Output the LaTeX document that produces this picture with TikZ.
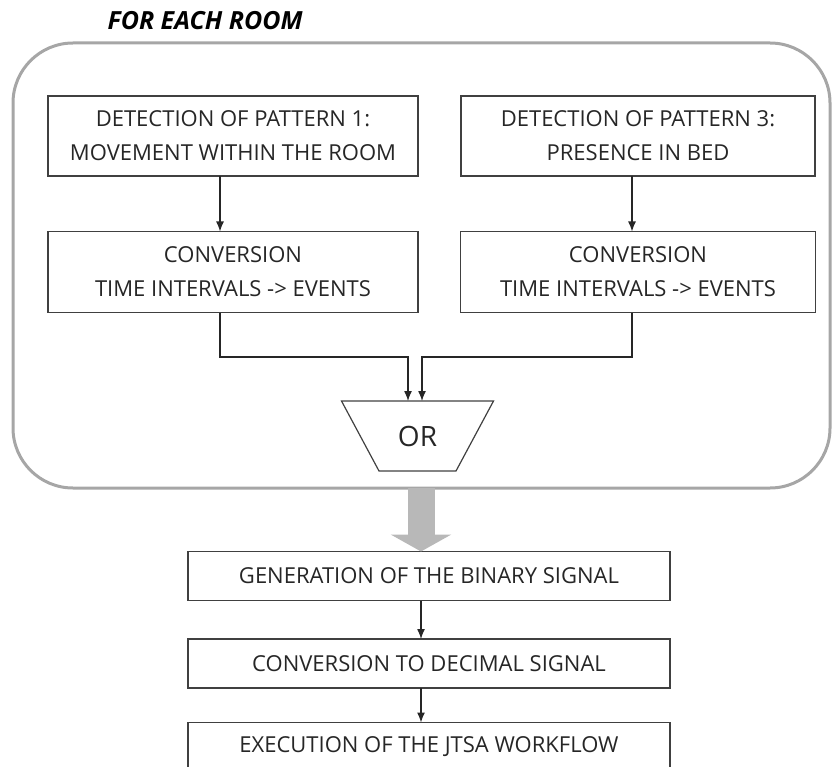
\documentclass[tikz,border=0pt]{standalone}
\usepackage{fontspec}
\setmainfont{Open Sans}
\usetikzlibrary{positioning,arrows.meta}
\begin{document}
\begin{tikzpicture}[
    x=1pt, y=-1pt,
    box/.style={rectangle, draw=black!75, line width=1.2pt, align=center, inner sep=0pt, outer sep=0pt, font=\fontsize{22}{34}\selectfont, text=black!85},
    room/.style={rectangle, draw=black!35, line width=3pt, rounded corners=60pt, inner sep=0pt, outer sep=0pt},
    gate/.style={rectangle, inner sep=0pt, outer sep=0pt, minimum width=152pt, minimum height=70pt, font=\fontsize{28}{30}\selectfont, text=black!85},
    gateline/.style={draw=black!75, line width=1.2pt, line join=miter},
    arrow/.style={-{Latex[length=10pt,width=8pt]}, line width=1.3pt, black!85},
    bigarrow/.style={line width=27pt, black!28, -{Triangle[length=17pt,width=60pt]}}
]
\useasboundingbox (0,0) rectangle (832,767);

% Define nodes
\node (title) at (205,21) {\fontsize{25}{27}\selectfont\bfseries\itshape FOR EACH ROOM};
\node (room) [room, minimum width=817pt, minimum height=445pt] at (421.5,265.5) {};

\node (det1) [box, minimum width=370pt, minimum height=80pt] at (233,136) {DETECTION OF PATTERN 1:\\MOVEMENT WITHIN THE ROOM};
\node (det3) [box, minimum width=354pt, minimum height=80pt] at (638,136) {DETECTION OF PATTERN 3:\\PRESENCE IN BED};
\node (conv1) [box, minimum width=370pt, minimum height=81pt] at (233,272) {CONVERSION\\TIME INTERVALS -> EVENTS};
\node (conv3) [box, minimum width=355pt, minimum height=81pt] at (638,272) {CONVERSION\\TIME INTERVALS -> EVENTS};
\node (or) [gate] at (417.5,436) {OR};
\draw [gateline] (or.north west) -- (or.north east) -- ([xshift=-37.5pt]or.south east) -- ([xshift=37.5pt]or.south west) -- cycle;

\node (gen) [box, minimum width=482pt, minimum height=49pt] at (429,576) {GENERATION OF THE BINARY SIGNAL};
\node (dec) [box, minimum width=482pt, minimum height=49pt] at (429,663.5) {CONVERSION TO DECIMAL SIGNAL};
\node (jtsa) [box, minimum width=482pt, minimum height=49pt] at (429,747) {EXECUTION OF THE JTSA WORKFLOW};

\coordinate (colL) at (220,0);
\coordinate (colR) at (632,0);
\coordinate (inL) at (408,357);
\coordinate (inR) at (422,357);
\coordinate (axis) at (421,0);

% Connect nodes
\draw [arrow] (det1.south -| colL) -- (conv1.north -| colL);
\draw [arrow] (det3.south -| colR) -- (conv3.north -| colR);
\draw [arrow] (conv1.south -| colL) |- (inL) -- (inL |- or.north);
\draw [arrow] (conv3.south -| colR) |- (inR) -- (inR |- or.north);
\draw [bigarrow] (room.south -| axis) -- (gen.north -| axis);
\draw [arrow] (gen.south -| axis) -- (dec.north -| axis);
\draw [arrow] (dec.south -| axis) -- (jtsa.north -| axis);
\end{tikzpicture}
\end{document}
